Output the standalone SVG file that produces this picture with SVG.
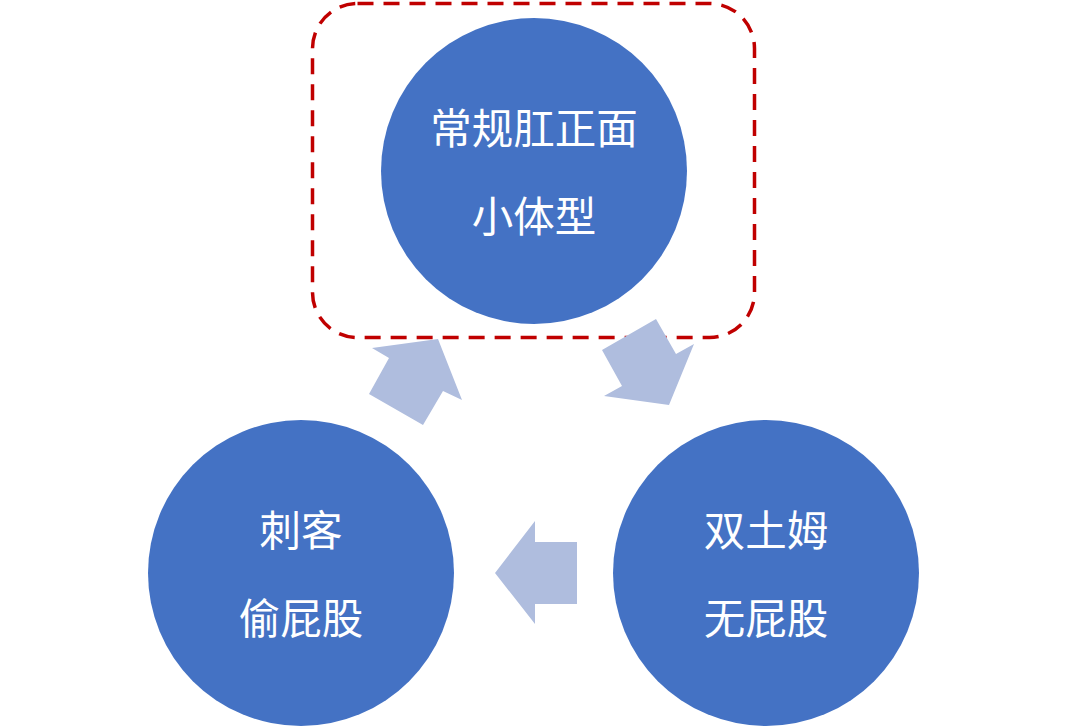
<svg xmlns="http://www.w3.org/2000/svg" width="1067" height="728" viewBox="0 0 1067 728">
<style>
.node{fill:#4472C4;}
.lbl{fill:#FFFFFF;font-family:"Noto Sans CJK SC","Noto Sans",sans-serif;font-size:41.5px;text-anchor:middle;dominant-baseline:central;}
.arr{fill:#AFBDDE;}
.hl{fill:none;stroke:#C00000;stroke-width:3.5;stroke-dasharray:16 10;}
</style>
<rect width="1067" height="728" fill="#FFFFFF"/>
<rect class="hl" x="312.5" y="3.5" width="442" height="334" rx="45" ry="45"/>
<g id="connectors">
<polygon class="arr" points="438,339 462,400 443,391 423,425 369,394 389,358 372,348"/>
<polygon class="arr" points="656,319 676,354 694,344 669,405 604,396 622,386 602,350"/>
<polygon class="arr" points="495,573 535,521 535,542 577,542 577,604 535,604 535,624"/>
</g>
<g id="node-top">
<circle class="node" cx="534" cy="171" r="153"/>
<text class="lbl" x="534" y="126">常规肛正面</text>
<text class="lbl" x="534" y="214">小体型</text>
</g>
<g id="node-left">
<circle class="node" cx="301" cy="573" r="153"/>
<text class="lbl" x="301" y="528">刺客</text>
<text class="lbl" x="301" y="616">偷屁股</text>
</g>
<g id="node-right">
<circle class="node" cx="766" cy="573" r="153"/>
<text class="lbl" x="766" y="528">双土姆</text>
<text class="lbl" x="766" y="616">无屁股</text>
</g>
</svg>
